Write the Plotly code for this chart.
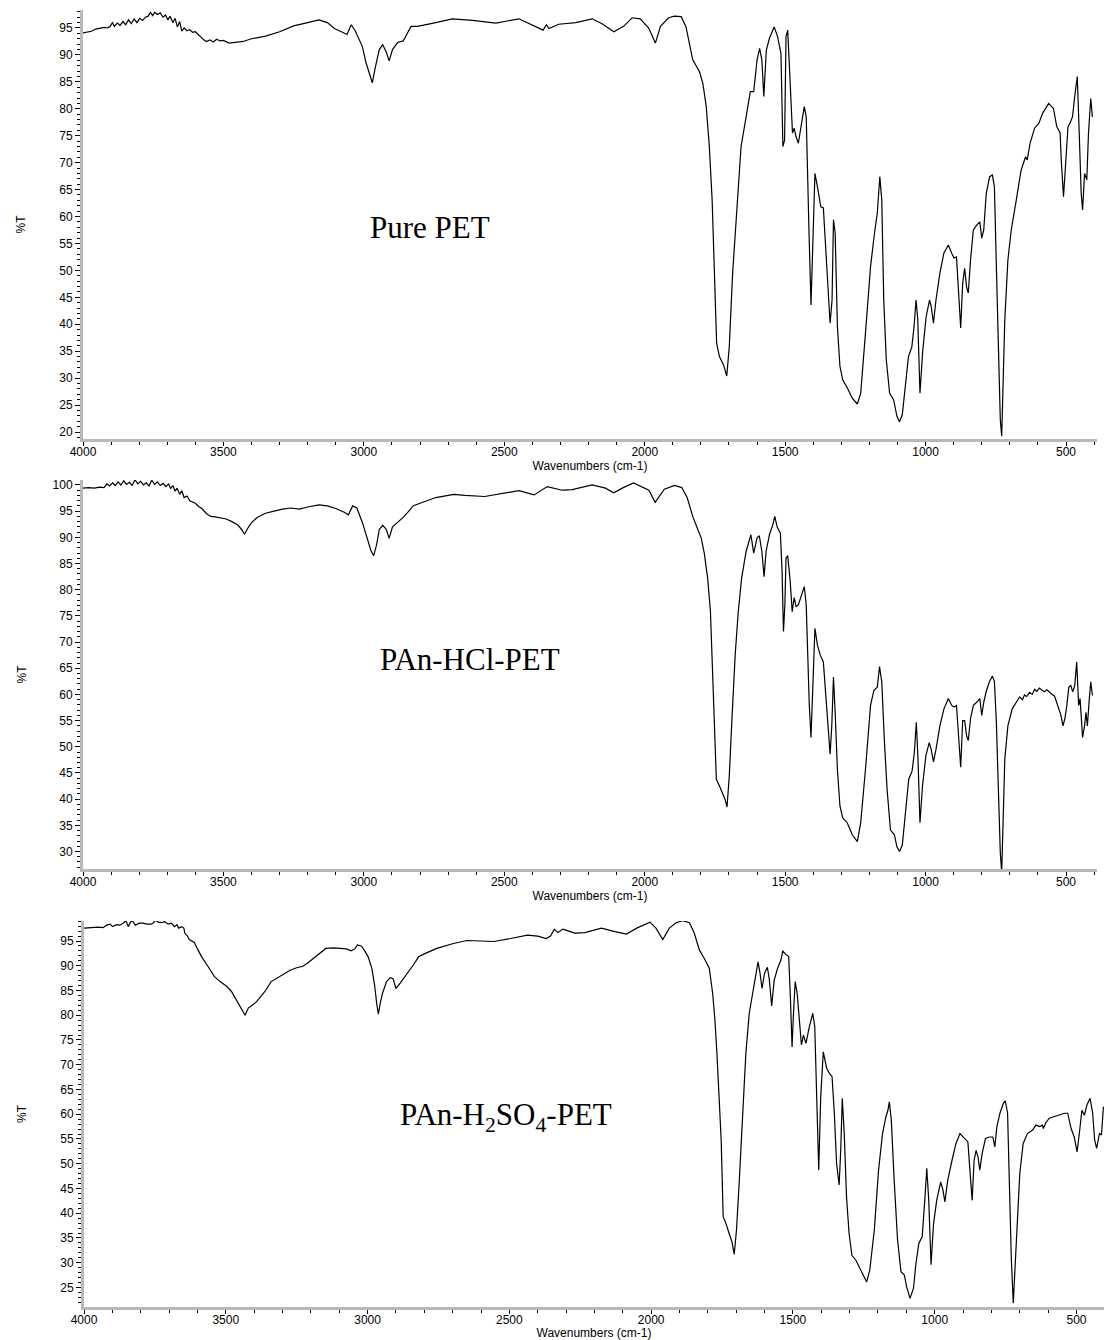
import plotly.graph_objects as go

# ---------------- data (wavenumber cm-1, %T) ----------------
PURE_PET = [
    (4000, 94.1), (3985, 94.3), (3970, 94.4), (3955, 94.8), (3940, 95.0), (3925, 95.1),
    (3915, 95.0), (3905, 95.2), (3895, 96.0), (3888, 95.3), (3878, 95.9), (3868, 95.5),
    (3858, 96.2), (3848, 95.6), (3838, 96.5), (3828, 95.8), (3818, 96.7), (3808, 96.0),
    (3798, 96.8), (3788, 96.4), (3778, 97.0), (3768, 97.2), (3760, 97.9), (3752, 97.3),
    (3745, 97.9), (3735, 97.5), (3725, 97.8), (3715, 97.0), (3706, 97.4), (3698, 96.5),
    (3690, 97.2), (3680, 96.0), (3672, 96.8), (3664, 95.2), (3656, 96.2), (3648, 94.4),
    (3640, 95.0), (3630, 94.5), (3620, 94.7), (3610, 94.2), (3600, 94.3), (3590, 93.8),
    (3580, 93.3), (3570, 92.8), (3560, 92.5), (3548, 92.8), (3536, 92.4), (3524, 92.9),
    (3512, 92.6), (3500, 92.7), (3480, 92.2), (3460, 92.3), (3430, 92.5), (3400, 93.0),
    (3350, 93.5), (3300, 94.3), (3250, 95.4), (3200, 96.0), (3160, 96.5), (3130, 96.0),
    (3105, 94.9), (3080, 94.3), (3060, 93.8), (3045, 95.6), (3030, 94.4), (3005, 91.5),
    (2992, 88.5), (2980, 86.5), (2970, 84.8), (2960, 87.5), (2945, 91.0), (2933, 91.9),
    (2920, 90.5), (2910, 88.9), (2898, 91.0), (2880, 92.3), (2860, 92.6), (2832, 95.3),
    (2809, 95.3), (2744, 96.0), (2685, 96.7), (2613, 96.4), (2530, 95.9), (2448, 96.7),
    (2394, 95.4), (2362, 94.6), (2350, 95.6), (2341, 94.9), (2306, 95.7), (2246, 96.0),
    (2187, 96.7), (2152, 95.8), (2110, 94.3), (2075, 95.3), (2045, 96.9), (2016, 96.7),
    (1986, 95.0), (1962, 92.2), (1944, 95.3), (1915, 96.9), (1894, 97.2), (1870, 97.1),
    (1853, 95.2), (1829, 89.1), (1805, 86.9), (1793, 84.7), (1781, 80.4), (1770, 73.0),
    (1760, 63.1), (1752, 50.7), (1744, 36.5), (1734, 34.0), (1719, 32.4), (1708, 30.4),
    (1699, 35.8), (1687, 49.5), (1671, 63.1), (1657, 73.0), (1639, 78.5), (1624, 83.2),
    (1612, 83.2), (1600, 89.1), (1591, 91.2), (1583, 89.1), (1576, 82.3), (1567, 90.9),
    (1556, 93.1), (1539, 95.2), (1527, 93.4), (1515, 90.3), (1508, 73.0), (1502, 74.2),
    (1497, 93.4), (1491, 94.6), (1482, 84.7), (1474, 75.5), (1468, 76.4), (1461, 74.8),
    (1453, 73.6), (1441, 77.9), (1432, 80.4), (1425, 78.5), (1420, 69.9), (1415, 56.9),
    (1408, 43.6), (1401, 57.5), (1394, 68.0), (1385, 65.5), (1373, 61.8), (1364, 61.6),
    (1357, 55.6), (1347, 45.8), (1340, 40.2), (1333, 44.5), (1328, 59.4), (1322, 57.0),
    (1314, 39.6), (1305, 32.2), (1295, 29.7), (1279, 28.2), (1261, 26.3), (1243, 25.2),
    (1231, 27.2), (1214, 38.4), (1196, 50.7), (1182, 56.9), (1172, 60.6), (1163, 67.4),
    (1156, 63.1), (1149, 44.5), (1140, 33.4), (1128, 27.2), (1114, 26.0), (1102, 22.9),
    (1093, 21.9), (1083, 23.2), (1072, 28.5), (1061, 34.0), (1049, 35.8), (1041, 39.6),
    (1034, 44.5), (1028, 41.0), (1020, 27.2), (1010, 35.2), (998, 41.4), (986, 44.5),
    (980, 43.3), (972, 40.2), (963, 44.5), (949, 49.5), (935, 53.2), (919, 54.7),
    (907, 53.2), (899, 52.3), (890, 52.5), (882, 44.5), (875, 39.3), (868, 47.6),
    (861, 50.4), (854, 46.9), (848, 45.8), (840, 51.9), (830, 57.5), (818, 58.4),
    (807, 59.0), (800, 56.0), (793, 57.5), (784, 64.3), (772, 67.4), (762, 67.7),
    (755, 65.5), (748, 50.7), (740, 32.2), (734, 22.3), (729, 19.2), (725, 26.0),
    (718, 40.8), (707, 51.9), (695, 57.5), (677, 63.1), (660, 68.6), (644, 71.1),
    (638, 70.5), (628, 73.6), (612, 76.4), (597, 77.3), (583, 79.2), (562, 81.0),
    (545, 80.1), (533, 76.7), (521, 75.5), (517, 70.5), (509, 63.7), (502, 69.3),
    (493, 76.7), (486, 77.3), (477, 78.5), (469, 82.3), (460, 86.0), (453, 75.5),
    (446, 64.3), (441, 61.2), (434, 68.0), (426, 66.8), (420, 75.5), (412, 81.9),
    (406, 78.5),
]

PAN_HCL_PET = [
    (4000, 99.4), (3980, 99.5), (3960, 99.4), (3940, 99.6), (3925, 99.5), (3915, 100.2),
    (3905, 99.8), (3895, 100.4), (3885, 99.9), (3875, 100.6), (3865, 100.0), (3855, 100.8),
    (3845, 100.1), (3835, 100.5), (3825, 99.9), (3815, 101.0), (3805, 100.2), (3795, 100.7),
    (3785, 100.0), (3775, 100.4), (3765, 99.8), (3755, 100.9), (3745, 100.1), (3735, 100.6),
    (3725, 99.9), (3715, 100.3), (3705, 99.7), (3695, 100.2), (3688, 99.3), (3680, 99.9),
    (3672, 98.8), (3665, 99.4), (3656, 98.2), (3648, 98.9), (3640, 97.6), (3630, 97.9),
    (3620, 97.0), (3610, 96.8), (3600, 96.5), (3590, 96.0), (3575, 95.4), (3560, 94.5),
    (3545, 94.0), (3530, 93.9), (3510, 93.7), (3490, 93.5), (3470, 93.0), (3450, 92.4),
    (3435, 91.5), (3425, 90.6), (3415, 91.6), (3400, 92.8), (3380, 93.8), (3350, 94.6),
    (3320, 95.0), (3290, 95.4), (3260, 95.6), (3230, 95.4), (3200, 95.8), (3160, 96.2),
    (3130, 96.0), (3100, 95.5), (3070, 94.8), (3055, 94.3), (3040, 96.0), (3025, 95.6),
    (3005, 92.8), (2990, 90.0), (2975, 87.5), (2965, 86.5), (2955, 88.5), (2945, 91.5),
    (2933, 92.3), (2920, 91.5), (2910, 89.8), (2898, 92.0), (2880, 92.8), (2860, 93.8),
    (2840, 95.0), (2825, 96.0), (2800, 96.5), (2744, 97.6), (2680, 98.2), (2640, 98.0),
    (2570, 97.8), (2500, 98.5), (2448, 98.9), (2394, 98.1), (2347, 99.7), (2294, 99.0),
    (2258, 99.1), (2187, 100.0), (2140, 99.4), (2110, 98.5), (2080, 99.4), (2040, 100.4),
    (2005, 99.6), (1985, 99.0), (1963, 96.7), (1930, 99.2), (1894, 99.9), (1868, 99.5),
    (1849, 97.6), (1829, 94.0), (1811, 91.5), (1799, 89.9), (1788, 87.0), (1776, 82.2),
    (1766, 75.8), (1759, 64.3), (1752, 52.7), (1745, 43.8), (1734, 42.5), (1722, 40.9),
    (1714, 40.0), (1707, 38.5), (1699, 44.4), (1690, 54.7), (1678, 67.5), (1667, 75.8),
    (1655, 82.2), (1639, 87.3), (1627, 89.9), (1622, 90.5), (1612, 87.0), (1600, 89.9),
    (1592, 90.3), (1583, 87.3), (1575, 82.5), (1568, 87.3), (1556, 90.5), (1544, 92.4),
    (1537, 94.0), (1528, 91.9), (1517, 90.8), (1511, 83.5), (1506, 72.0), (1501, 77.1),
    (1497, 86.0), (1491, 86.5), (1482, 81.6), (1475, 75.8), (1468, 78.5), (1461, 76.8),
    (1453, 77.1), (1441, 79.3), (1432, 80.6), (1425, 77.1), (1420, 68.1), (1414, 57.9),
    (1408, 51.8), (1401, 64.3), (1394, 72.6), (1385, 69.4), (1375, 67.5), (1364, 66.2),
    (1355, 59.2), (1347, 52.1), (1340, 48.6), (1334, 54.0), (1328, 63.3), (1322, 56.6),
    (1314, 45.7), (1305, 38.7), (1295, 36.4), (1279, 35.5), (1261, 33.2), (1243, 31.9),
    (1231, 35.5), (1214, 45.7), (1196, 57.9), (1184, 60.8), (1172, 61.4), (1164, 65.3),
    (1156, 62.4), (1147, 51.4), (1137, 41.8), (1125, 34.1), (1111, 33.2), (1102, 30.9),
    (1093, 30.0), (1083, 31.2), (1072, 36.7), (1060, 43.8), (1048, 45.4), (1040, 48.9),
    (1033, 54.7), (1027, 47.6), (1020, 35.5), (1011, 42.5), (999, 48.3), (987, 50.8),
    (980, 49.5), (972, 47.1), (963, 49.5), (949, 54.0), (935, 57.2), (919, 59.2),
    (907, 57.9), (899, 57.6), (890, 57.9), (882, 52.1), (875, 46.1), (868, 55.0),
    (861, 55.0), (854, 52.1), (848, 51.2), (840, 55.4), (830, 57.9), (818, 58.5),
    (807, 59.2), (800, 56.0), (793, 58.5), (784, 60.6), (772, 62.5), (762, 63.5),
    (755, 62.5), (748, 54.7), (740, 39.9), (734, 29.7), (729, 26.0), (725, 35.5),
    (718, 47.6), (707, 54.0), (692, 57.2), (677, 58.5), (665, 59.5), (655, 59.0),
    (648, 59.9), (640, 59.6), (630, 60.4), (620, 60.0), (612, 61.0), (604, 60.6),
    (595, 61.2), (585, 60.8), (577, 60.5), (568, 60.9), (559, 60.4), (550, 60.0),
    (541, 59.7), (530, 57.9), (518, 56.0), (511, 54.0), (504, 55.4), (497, 57.9),
    (490, 61.4), (483, 61.7), (476, 60.5), (469, 61.7), (462, 66.2), (455, 57.9),
    (450, 59.2), (441, 51.8), (434, 54.0), (429, 56.6), (424, 54.0), (417, 59.2),
    (412, 62.4), (406, 59.8),
]

PAN_H2SO4_PET = [
    (4000, 97.6), (3970, 97.7), (3950, 97.8), (3933, 97.7), (3920, 98.2), (3908, 98.4),
    (3899, 97.9), (3885, 98.3), (3874, 98.2), (3862, 98.6), (3852, 99.1), (3844, 97.9),
    (3836, 98.8), (3829, 99.1), (3819, 98.2), (3805, 98.6), (3792, 98.6), (3778, 98.4),
    (3763, 98.4), (3755, 98.7), (3748, 99.2), (3738, 98.8), (3726, 98.7), (3715, 98.9),
    (3703, 98.4), (3692, 98.6), (3681, 97.9), (3672, 98.3), (3666, 97.6), (3655, 97.9),
    (3648, 97.6), (3644, 96.5), (3635, 96.0), (3629, 95.3), (3620, 95.0), (3611, 94.7),
    (3598, 93.2), (3585, 91.8), (3562, 89.8), (3540, 87.8), (3520, 86.8), (3496, 85.8),
    (3480, 84.8), (3466, 83.4), (3454, 82.3), (3444, 81.1), (3432, 80.0), (3420, 81.5),
    (3414, 81.7), (3392, 82.7), (3375, 83.8), (3362, 84.8), (3340, 86.8), (3318, 87.5),
    (3295, 88.4), (3273, 89.1), (3250, 89.6), (3228, 89.9), (3210, 90.6), (3191, 91.5),
    (3170, 92.6), (3147, 93.5), (3120, 93.6), (3095, 93.5), (3075, 93.4), (3058, 93.0),
    (3045, 93.4), (3036, 94.2), (3022, 94.0), (3010, 93.0), (2998, 91.8), (2985, 89.5),
    (2975, 86.0), (2968, 82.5), (2962, 80.2), (2955, 82.5), (2947, 84.5), (2933, 86.8),
    (2920, 87.6), (2910, 87.4), (2900, 85.4), (2885, 86.5), (2868, 87.8), (2850, 89.3),
    (2838, 90.2), (2820, 91.8), (2800, 92.4), (2756, 93.5), (2697, 94.5), (2650, 95.1),
    (2600, 95.0), (2578, 95.0), (2554, 94.9), (2495, 95.5), (2436, 96.2), (2400, 96.0),
    (2370, 95.5), (2355, 96.0), (2341, 97.4), (2329, 96.7), (2311, 97.4), (2290, 97.0),
    (2270, 96.6), (2234, 96.7), (2175, 97.6), (2128, 96.9), (2087, 96.4), (2051, 97.6),
    (2004, 98.8), (1983, 97.6), (1959, 95.3), (1936, 97.6), (1912, 98.7), (1889, 99.1),
    (1865, 98.7), (1848, 96.6), (1830, 93.2), (1813, 91.5), (1795, 89.5), (1783, 84.4),
    (1775, 79.0), (1768, 72.3), (1760, 64.2), (1753, 54.8), (1746, 39.3), (1736, 37.9),
    (1725, 35.9), (1715, 34.2), (1707, 31.7), (1699, 36.6), (1689, 46.7), (1678, 60.2),
    (1666, 72.3), (1654, 80.4), (1640, 85.1), (1630, 87.8), (1623, 90.8), (1616, 88.5),
    (1609, 85.4), (1600, 88.5), (1590, 89.7), (1583, 87.1), (1575, 81.9), (1566, 87.1),
    (1554, 89.5), (1542, 91.2), (1536, 93.0), (1524, 92.2), (1515, 91.9), (1509, 83.7),
    (1503, 73.6), (1498, 80.4), (1492, 86.8), (1485, 84.4), (1477, 78.4), (1470, 74.0),
    (1463, 76.0), (1454, 74.3), (1442, 77.7), (1430, 80.4), (1423, 77.7), (1416, 64.2),
    (1409, 48.7), (1402, 63.5), (1393, 72.6), (1381, 69.3), (1372, 68.3), (1362, 67.6),
    (1354, 60.2), (1346, 50.1), (1337, 45.7), (1331, 53.4), (1326, 63.2), (1319, 56.1),
    (1311, 43.3), (1302, 35.9), (1292, 31.5), (1278, 30.5), (1260, 28.5), (1240, 26.1),
    (1229, 28.5), (1213, 36.6), (1198, 48.7), (1184, 56.1), (1172, 59.5), (1165, 60.8),
    (1160, 62.5), (1153, 58.8), (1143, 46.7), (1131, 34.6), (1119, 28.2), (1107, 27.5),
    (1099, 25.1), (1087, 22.8), (1075, 24.8), (1066, 29.9), (1056, 33.9), (1044, 35.3),
    (1035, 42.6), (1028, 49.1), (1021, 42.6), (1013, 29.6), (1004, 37.9), (993, 42.6),
    (979, 46.3), (971, 44.7), (964, 42.3), (954, 46.7), (939, 50.7), (925, 54.1),
    (911, 56.1), (899, 55.3), (883, 54.4), (875, 48.0), (868, 42.6), (861, 50.7),
    (854, 52.7), (847, 51.3), (841, 48.7), (833, 52.0), (821, 55.1), (807, 55.4),
    (795, 55.4), (788, 53.4), (781, 57.4), (770, 60.2), (758, 62.2), (751, 62.7),
    (743, 60.2), (737, 46.7), (730, 31.2), (723, 21.8), (716, 29.9), (709, 40.0),
    (700, 48.0), (688, 54.1), (673, 56.1), (655, 56.8), (643, 57.8), (630, 57.5),
    (620, 57.8), (617, 57.1), (608, 58.3), (596, 59.2), (578, 59.5), (561, 59.8),
    (543, 60.2), (531, 60.2), (519, 57.1), (508, 55.4), (498, 52.4), (490, 56.1),
    (481, 60.8), (472, 59.8), (463, 61.9), (452, 63.2), (443, 60.2), (436, 54.8),
    (429, 53.1), (419, 56.1), (412, 55.8), (405, 61.5),
]

PANEL_LABELS = ["Pure PET", "PAn-HCl-PET", "PAn-H<sub>2</sub>SO<sub>4</sub>-PET"]
LABEL_POS = [(2764, 57.9), (2622, 66.6), (2513, 59.4)]   # (wavenumber, %T) of each label
Y_RANGES = [(18.7, 98.34), (26.66, 100.95), (21.05, 99.04)]
X_RANGES = [(4000, 389.7), (4000, 389.7), (4000, 403.0)]
X_TITLE = "Wavenumbers (cm-1)"
Y_TITLE = "%T"

SERIES = [PURE_PET, PAN_HCL_PET, PAN_H2SO4_PET]

# ---------------- layout geometry (pixels) ----------------
W, H = 1104, 1340
ML, MR, MT, MB = 83, 0, 10, 33
PW = W - ML - MR
PH = H - MT - MB
# (left px, right px, top px, bottom px) of each panel
PANELS = [(83, 1097, 10, 439), (83, 1097, 480, 869), (84, 1104, 921, 1307)]
Y_TITLE_STANDOFF = [32, 24, 32]

def xdom(l, r):
    return [(l - ML) / PW, (r - ML) / PW]

def ydom(t, b):
    return [(H - MB - b) / PH, (H - MB - t) / PH]

fig = go.Figure()
tick_font = dict(family="Liberation Sans, Arial, sans-serif", size=12, color="black")

for i, data in enumerate(SERIES):
    pts = sorted(data, key=lambda p: -p[0])
    xs = [p[0] for p in pts]
    ys = [p[1] for p in pts]
    sfx = "" if i == 0 else str(i + 1)
    fig.add_trace(go.Scatter(x=xs, y=ys, mode="lines",
                             line=dict(color="black", width=1.2),
                             xaxis="x" + sfx, yaxis="y" + sfx,
                             showlegend=False, hoverinfo="skip"))
    l, r, t, b = PANELS[i]
    xa = dict(domain=xdom(l, r), anchor="y" + sfx, range=list(X_RANGES[i]),
              tickmode="linear", tick0=0, dtick=500,
              ticks="outside", ticklen=4, tickwidth=1, tickcolor="black",
              minor=dict(dtick=100, ticks="outside", ticklen=3, tickcolor="black", tickwidth=1),
              showline=True, linecolor="#b8b8b8", linewidth=3,
              showgrid=False, zeroline=False, tickfont=tick_font,
              ticklabelstandoff=-4,
              title=dict(text=X_TITLE, font=tick_font, standoff=1))
    ya = dict(domain=ydom(t, b), anchor="x" + sfx, range=list(Y_RANGES[i]),
              tickmode="linear", tick0=0, dtick=5,
              ticks="outside", ticklen=5, tickwidth=1, tickcolor="black",
              minor=dict(dtick=1, ticks="outside", ticklen=3, tickcolor="black", tickwidth=1),
              showline=True, linecolor="#b8b8b8", linewidth=3,
              showgrid=False, zeroline=False, tickfont=tick_font,
              title=dict(text=Y_TITLE, font=tick_font, standoff=Y_TITLE_STANDOFF[i]))
    fig.update_layout(**{"xaxis" + sfx: xa, "yaxis" + sfx: ya})
    fig.add_annotation(x=LABEL_POS[i][0], y=LABEL_POS[i][1],
                       xref="x" + sfx, yref="y" + sfx,
                       text=PANEL_LABELS[i], showarrow=False,
                       font=dict(family="Liberation Serif, Times New Roman, serif",
                                 size=31, color="black"))

fig.update_layout(width=W, height=H, margin=dict(l=ML, r=MR, t=MT, b=MB),
                  paper_bgcolor="white", plot_bgcolor="white")

fig.write_html("out.html", config={"displayModeBar": False},
               post_script="document.body.style.margin='0';")
